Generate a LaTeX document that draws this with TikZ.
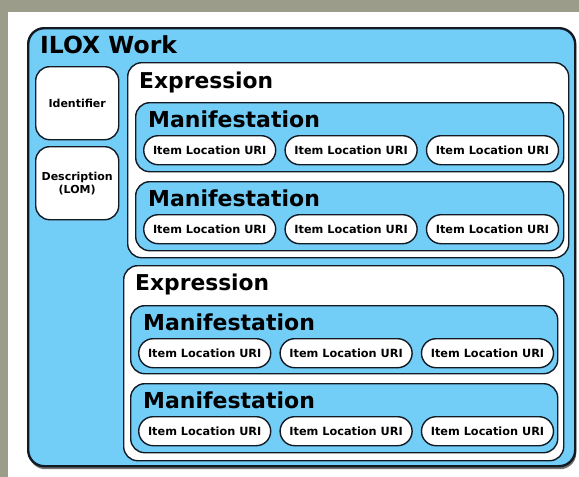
\documentclass[tikz,border=0pt]{standalone}
\usepackage{fontspec}
\setmainfont{DejaVu Sans}
\usetikzlibrary{positioning,shadows}
\definecolor{iloxblue}{RGB}{114,205,247}
\definecolor{iloxline}{RGB}{18,26,36}
\definecolor{paper}{RGB}{156,156,138}
\tikzset{
  box/.style={draw=iloxline, line width=1.4pt, rounded corners=14pt, anchor=north west, inner sep=0pt},
  workbox/.style={box, fill=iloxblue, line width=2.4pt, rounded corners=16pt,
    drop shadow={shadow xshift=1pt, shadow yshift=-3pt, opacity=.55, fill=black}},
  sidebox/.style={box, fill=white, minimum width=83pt, minimum height=73pt, align=center,
    font=\bfseries\fontsize{11}{13}\selectfont},
  exprbox/.style={box, fill=white},
  manifbox/.style={box, fill=iloxblue},
  itembox/.style={box, fill=white, rounded corners=14.5pt, minimum width=132pt, minimum height=29pt,
    font=\bfseries\fontsize{11.3}{13}\selectfont},
  worktitle/.style={anchor=base west, inner sep=0pt, font=\bfseries\fontsize{23.5}{23.5}\selectfont},
  exprtitle/.style={anchor=base west, inner sep=0pt, font=\bfseries\fontsize{21.8}{21.8}\selectfont},
  maniftitle/.style={anchor=base west, inner sep=0pt, font=\bfseries\fontsize{22}{22}\selectfont},
}
\begin{document}
\begin{tikzpicture}[x=1pt,y=-1pt]
  \useasboundingbox (0,0) rectangle (579,477);
  % page behind the slide
  \fill[paper] (0,0) rectangle (579,477);
  \fill[white] (8,12) rectangle (579,477);

  % the work
  \node[workbox, minimum width=547pt, minimum height=438pt] (work) at (27,27) {};
  \node[worktitle] (worklabel) at (40,53) {ILOX Work};
  \node[sidebox] (ident) at (35,66) {Identifier};
  \node[sidebox] (descr) at (35,146) {Description\\(LOM)};

  % first expression
  \node[exprbox, minimum width=441pt, minimum height=195pt] (expr1) at (127,62) {};
  \node[exprtitle] (expr1label) at (139,88) {Expression};
  \node[manifbox, minimum width=428pt, minimum height=69pt] (man1) at (135,102) {};
  \node[maniftitle] (man1label) at (148,127) {Manifestation};
  \node[itembox] (item11) at (143,135) {Item Location URI};
  \node[itembox, right=8pt of item11] (item12) {Item Location URI};
  \node[itembox, right=8pt of item12] (item13) {Item Location URI};
  \node[manifbox, minimum width=428pt, minimum height=69pt] (man2) at (135,181) {};
  \node[maniftitle] (man2label) at (148,206) {Manifestation};
  \node[itembox] (item21) at (143,214) {Item Location URI};
  \node[itembox, right=8pt of item21] (item22) {Item Location URI};
  \node[itembox, right=8pt of item22] (item23) {Item Location URI};

  % second expression
  \node[exprbox, minimum width=440pt, minimum height=195pt] (expr2) at (123,265) {};
  \node[exprtitle] (expr2label) at (135,290) {Expression};
  \node[manifbox, minimum width=427pt, minimum height=68pt] (man3) at (130,305) {};
  \node[maniftitle] (man3label) at (143,330) {Manifestation};
  \node[itembox] (item31) at (138,338) {Item Location URI};
  \node[itembox, right=8pt of item31] (item32) {Item Location URI};
  \node[itembox, right=8pt of item32] (item33) {Item Location URI};
  \node[manifbox, minimum width=427pt, minimum height=69pt] (man4) at (130,383) {};
  \node[maniftitle] (man4label) at (143,408) {Manifestation};
  \node[itembox] (item41) at (138,416) {Item Location URI};
  \node[itembox, right=8pt of item41] (item42) {Item Location URI};
  \node[itembox, right=8pt of item42] (item43) {Item Location URI};
\end{tikzpicture}
\end{document}
